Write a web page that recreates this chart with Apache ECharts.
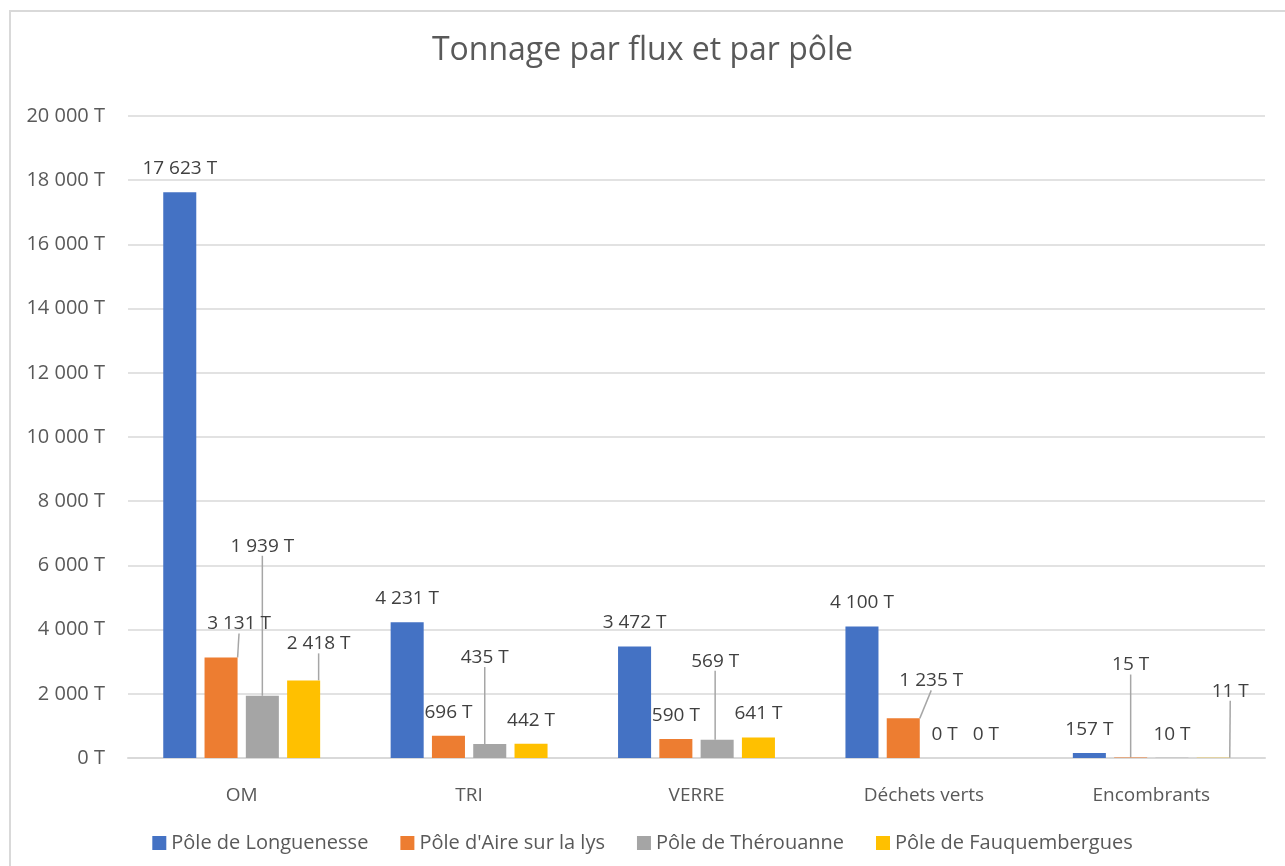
<!DOCTYPE html>
<html>
<head>
<meta charset="utf-8">
<script src="https://cdn.jsdelivr.net/npm/echarts@6/dist/echarts.min.js"></script>
<style>
  html, body { margin: 0; padding: 0; background: #fff; }
  #frame { position: absolute; left: 9px; top: 10px; width: 1290px; height: 870px; border: 2px solid #d9d9d9; box-sizing: border-box; }
  #chart { position: absolute; left: 0; top: 0; width: 1285px; height: 866px; }
</style>
</head>
<body>
<div id="frame"></div>
<div id="chart"></div>
<script>
var categories = ['OM', 'TRI', 'VERRE', 'Déchets verts', 'Encombrants'];
var seriesNames = ['Pôle de Longuenesse', "Pôle d'Aire sur la lys", 'Pôle de Thérouanne', 'Pôle de Fauquembergues'];
var longuenesse = [17623, 4231, 3472, 4100, 157];
var aire = [3131, 696, 590, 1235, 15];
var therouanne = [1939, 435, 569, 0, 10];
var fauquembergues = [2418, 442, 641, 0, 11];
var yTicks = [0, 2000, 4000, 6000, 8000, 10000, 12000, 14000, 16000, 18000, 20000];
var colors = ['#4472c4', '#ed7d31', '#a5a5a5', '#ffc000'];

// labels moved away from their bar (Excel leader lines), key = series_index
var moved = {
    '1_0': [18, -10],
    '2_0': [0, -126],
    '3_0': [15, -13],
    '2_1': [-5, -63],
    '2_2': [-2, -55],
    '1_3': [28, -14],
    '1_4': [0, -69],
    '3_4': [17, -43]
};

var font = "'Open Sans', 'Noto Sans', sans-serif";

function fmt(v) {
    return String(v).replace(/\B(?=(\d{3})+(?!\d))/g, ' ') + ' T';
}

var chartDom = document.getElementById('chart');
var myChart = echarts.init(chartDom);

var allValues = [longuenesse, aire, therouanne, fauquembergues];
var series = allValues.map(function (vals, si) {
    return {
        name: seriesNames[si],
        type: 'bar',
        barGap: '25%',
        barCategoryGap: '31%',
        itemStyle: { color: colors[si] },
        label: {
            show: true,
            position: 'top',
            distance: 14,
            color: '#404040',
            fontFamily: font,
            fontSize: 19,
            formatter: function (p) { return fmt(p.value); }
        },
        labelLine: {
            show: false,
            lineStyle: { color: '#a6a6a6', width: 1.5 }
        },
        data: vals.map(function (v, di) {
            var item = { value: v };
            if (moved[si + '_' + di]) {
                item.labelLine = { show: true, lineStyle: { color: '#a6a6a6', width: 1.5 } };
            }
            return item;
        })
    };
});

var option = {
    animation: false,
    color: colors,
    title: {
        text: 'Tonnage par flux et par pôle',
        left: 'center',
        top: 30,
        textStyle: { fontFamily: font, fontSize: 32, fontWeight: 'normal', color: '#595959' }
    },
    legend: {
        bottom: 8,
        left: 'center',
        itemWidth: 14,
        itemHeight: 14,
        itemGap: 32,
        icon: 'rect',
        textStyle: { fontFamily: font, fontSize: 20, color: '#595959' },
        data: seriesNames
    },
    grid: { left: 128, right: 20, top: 116, bottom: 108 },
    xAxis: {
        type: 'category',
        data: categories,
        axisLine: { lineStyle: { color: '#d9d9d9', width: 2 } },
        axisTick: { show: false },
        axisLabel: { fontFamily: font, fontSize: 19, color: '#595959', margin: 28 }
    },
    yAxis: {
        type: 'value',
        min: yTicks[0],
        max: yTicks[yTicks.length - 1],
        interval: yTicks[1] - yTicks[0],
        axisLine: { show: false },
        axisTick: { show: false },
        splitLine: { lineStyle: { color: '#d9d9d9', width: 1.5 } },
        axisLabel: {
            fontFamily: font, fontSize: 20, color: '#595959', margin: 23,
            formatter: function (v) { return fmt(v); }
        }
    },
    labelLayout: function (params) {
        var off = moved[params.seriesIndex + '_' + params.dataIndex];
        if (off) {
            return { dx: off[0], dy: off[1] };
        }
        return {};
    },
    series: series
};

option && myChart.setOption(option);
</script>
</body>
</html>
